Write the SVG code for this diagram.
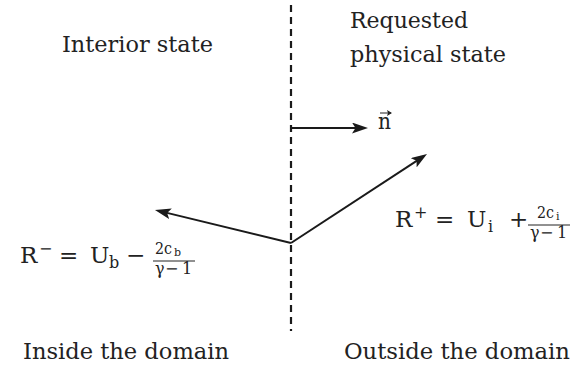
<svg xmlns="http://www.w3.org/2000/svg" width="581" height="371" viewBox="0 0 581 371">
<style>
.t{font-family:"DejaVu Serif",serif;font-size:23px;fill:#222}
.m{font-family:"DejaVu Serif",serif;fill:#222}
.big{font-size:23px}
.sup{font-size:16px}
.sub{font-size:16px}
.fr{font-size:16px}
.frs{font-size:11px}
.arr{stroke:#1a1a1a;fill:none;stroke-width:2}
</style>
<defs>
<marker id="ah" markerWidth="17" markerHeight="11" refX="10" refY="5.5" orient="auto" markerUnits="userSpaceOnUse">
<path d="M0,0 L16,5.5 L0,11 L3.5,5.5 z" fill="#1a1a1a"/>
</marker>
<marker id="vh" markerWidth="6" markerHeight="6" refX="4" refY="3" orient="auto" markerUnits="userSpaceOnUse">
<path d="M0,0 L5,3 L0,6 L1,3 z" fill="#222"/>
</marker>
</defs>
<g id="connectors">
<line id="boundary" x1="291" y1="5" x2="291" y2="331" stroke="#1a1a1a" stroke-width="2.2" stroke-dasharray="7 5"/>
<line id="normal" x1="291" y1="128" x2="362" y2="128" class="arr" stroke-width="1.5" marker-end="url(#ah)"/>
<line id="rminus" x1="291" y1="243" x2="160.8" y2="211.4" class="arr" marker-end="url(#ah)"/>
<line id="rplus" x1="291" y1="243" x2="422" y2="157.3" class="arr" marker-end="url(#ah)"/>
</g>
<g id="interior"><text class="t" x="62" y="52" textLength="151" lengthAdjust="spacingAndGlyphs">Interior state</text></g>
<g id="requested">
<text class="t" x="350" y="28" textLength="118" lengthAdjust="spacingAndGlyphs">Requested</text>
<text class="t" x="350" y="62" textLength="156" lengthAdjust="spacingAndGlyphs">physical state</text>
</g>
<g id="inside"><text class="t" x="23" y="359" textLength="206" lengthAdjust="spacingAndGlyphs">Inside the domain</text></g>
<g id="outside"><text class="t" x="344" y="359" textLength="226" lengthAdjust="spacingAndGlyphs">Outside the domain</text></g>
<g id="nlabel">
<text class="t" x="378" y="129" textLength="13" lengthAdjust="spacingAndGlyphs">n</text>
<line x1="380" y1="113" x2="391" y2="113" stroke="#222" stroke-width="1" marker-end="url(#vh)"/>
</g>
<g id="rplus-label" class="m">
<text class="big" x="395" y="227">R</text>
<text class="sup" x="414" y="218">+</text>
<text class="big" x="435" y="227">=</text>
<text class="big" x="467" y="227">U</text>
<text class="sub" x="488" y="232">i</text>
<text class="big" x="509" y="227">+</text>
<text class="fr" x="537" y="218" textLength="17" lengthAdjust="spacingAndGlyphs">2c</text>
<text class="frs" x="556" y="220">i</text>
<line x1="528" y1="225" x2="570" y2="225" stroke="#222" stroke-width="1"/>
<text class="fr" x="530" y="238">γ</text>
<text class="fr" x="540" y="238">−</text>
<text class="fr" x="557" y="238">1</text>
</g>
<g id="rminus-label" class="m">
<text class="big" x="20" y="263">R</text>
<text class="sup" x="39" y="254">−</text>
<text class="big" x="59" y="263">=</text>
<text class="big" x="90" y="263">U</text>
<text class="sub" x="109" y="268">b</text>
<text class="big" x="126" y="263">−</text>
<text class="fr" x="155" y="254" textLength="17" lengthAdjust="spacingAndGlyphs">2c</text>
<text class="frs" x="174" y="256">b</text>
<line x1="153" y1="261" x2="195" y2="261" stroke="#222" stroke-width="1"/>
<text class="fr" x="155" y="274">γ</text>
<text class="fr" x="165" y="274">−</text>
<text class="fr" x="182" y="274">1</text>
</g>
</svg>
